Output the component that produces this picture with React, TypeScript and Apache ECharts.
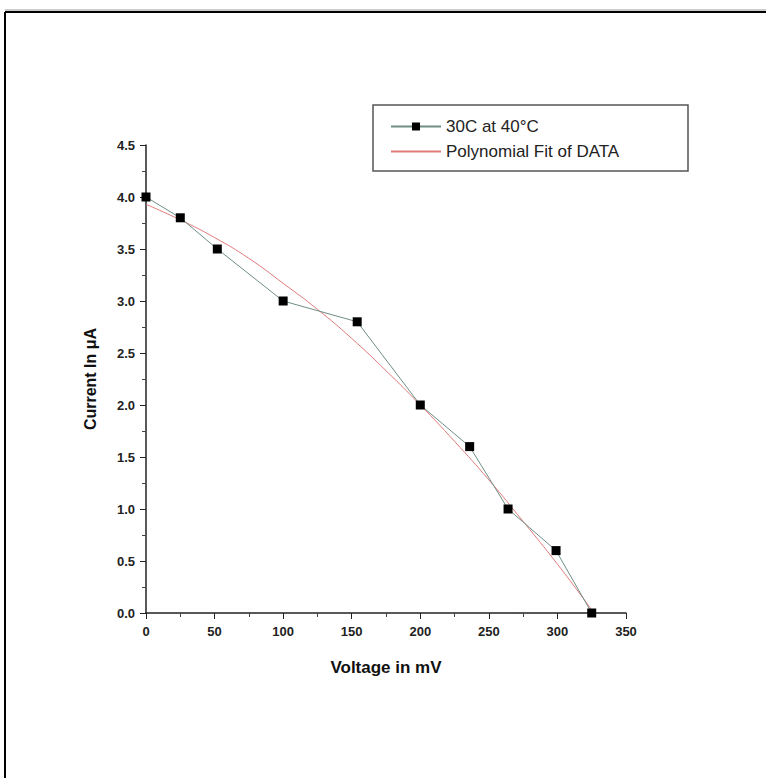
import React, { useEffect, useRef } from "react";
import * as echarts from "echarts";

const voltage = [0, 25, 52, 100, 154, 200, 236, 264, 299, 325];
const current = [4.0, 3.8, 3.5, 3.0, 2.8, 2.0, 1.6, 1.0, 0.6, 0.0];

const fitVoltage = [0, 25, 50, 75, 100, 125, 150, 175, 200, 225, 250, 275, 300, 325];
const fitCurrent = [3.93, 3.78, 3.61, 3.41, 3.17, 2.92, 2.64, 2.33, 2.0, 1.65, 1.28, 0.88, 0.47, 0.03];

const seriesNames = ["30C at 40°C", "Polynomial Fit of DATA"];
const xTitle = "Voltage in mV";
const yTitle = "Current In μA";

const font = "'Liberation Sans', Arial, sans-serif";

export default function App() {
  const ref = useRef<HTMLDivElement>(null);
  useEffect(() => {
    document.body.style.margin = "0";
    document.body.style.overflow = "hidden";
    const chart = echarts.init(ref.current!, null, { renderer: "svg" });
    chart.setOption({
      animation: false,
      backgroundColor: "#ffffff",
      grid: { left: 146, right: 141, top: 145, bottom: 165, containLabel: false },
      xAxis: {
        type: "value",
        min: 0,
        max: 350,
        interval: 50,
        name: xTitle,
        nameLocation: "middle",
        nameGap: 46,
        nameTextStyle: { fontFamily: font, fontWeight: "bold", fontSize: 17, color: "#111" },
        axisLine: { show: true, lineStyle: { color: "#222", width: 1.5 } },
        axisTick: { show: true, inside: false, length: 6, lineStyle: { color: "#222" } },
        minorTick: { show: true, splitNumber: 2, length: 4, lineStyle: { color: "#444" } },
        splitLine: { show: false },
        axisLabel: { margin: 12, fontFamily: font, fontWeight: "bold", fontSize: 13, color: "#222" },
      },
      yAxis: {
        type: "value",
        min: 0,
        max: 4.5,
        interval: 0.5,
        name: yTitle,
        nameLocation: "middle",
        nameGap: 48,
        nameRotate: 90,
        nameTextStyle: { fontFamily: font, fontWeight: "bold", fontSize: 16, color: "#111" },
        axisLine: { show: true, lineStyle: { color: "#222", width: 1.5 } },
        axisTick: { show: true, inside: false, length: 6, lineStyle: { color: "#222" } },
        minorTick: { show: true, splitNumber: 2, length: 4, lineStyle: { color: "#444" } },
        splitLine: { show: false },
        axisLabel: {
          margin: 11,
          fontFamily: font,
          fontWeight: "bold",
          fontSize: 13,
          color: "#222",
          formatter: (v: number) => v.toFixed(1),
        },
      },
      legend: {
        left: 385,
        top: 113,
        orient: "vertical",
        itemWidth: 50,
        itemHeight: 10,
        itemGap: 8,
        textStyle: { fontFamily: font, fontSize: 17, color: "#222" },
        data: [
          { name: seriesNames[0] },
          { name: seriesNames[1], itemStyle: { opacity: 0 } },
        ],
      },
      graphic: [
        {
          type: "line",
          shape: { x1: 5, y1: 12, x2: 766, y2: 12 },
          style: { stroke: "#000", lineWidth: 2 },
        },
        {
          type: "line",
          shape: { x1: 5, y1: 12, x2: 5, y2: 778 },
          style: { stroke: "#000", lineWidth: 2 },
        },
        {
          type: "line",
          shape: { x1: 5, y1: 10, x2: 766, y2: 10 },
          style: { stroke: "#999", lineWidth: 1 },
        },
        {
          type: "rect",
          shape: { x: 373, y: 105, width: 315, height: 66 },
          style: { fill: "none", stroke: "#555", lineWidth: 1.5 },
        },
      ],
      series: [
        {
          name: seriesNames[0],
          type: "line",
          data: voltage.map((v, i) => [v, current[i]]),
          symbol: "rect",
          symbolSize: 9,
          itemStyle: { color: "#000" },
          lineStyle: { color: "#6f8f86", width: 1 },
          z: 3,
        },
        {
          name: seriesNames[1],
          type: "line",
          data: fitVoltage.map((v, i) => [v, fitCurrent[i]]),
          smooth: true,
          showSymbol: false,
          symbol: "none",
          itemStyle: { color: "#e07a7a" },
          lineStyle: { color: "#e07a7a", width: 1 },
          z: 2,
        },
      ],
    });
    return () => chart.dispose();
  }, []);
  return <div ref={ref} style={{ position: "absolute", left: 0, top: 0, width: 767, height: 778 }} />;
}
